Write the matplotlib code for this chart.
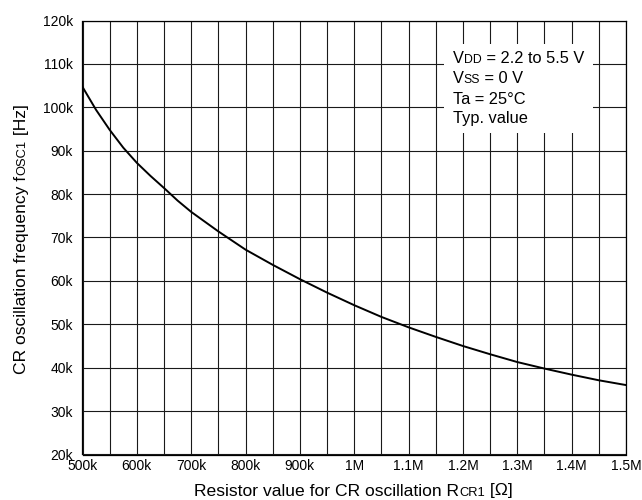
import matplotlib
matplotlib.use('Agg')
import matplotlib.pyplot as plt
from matplotlib.transforms import offset_copy
from matplotlib.patches import Rectangle
from matplotlib.ticker import MultipleLocator, FixedLocator

plt.rcParams['font.family'] = ['Liberation Sans', 'DejaVu Sans']

# ---- data (resistance in kΩ, frequency in kHz) ----
resistance_k = [500, 525, 550, 575, 600, 625, 650, 675, 700, 750, 800, 850, 900,
                950, 1000, 1050, 1100, 1150, 1200, 1250, 1300, 1350, 1400,
                1450, 1500]
frequency_k = [104.7, 99.4, 94.8, 90.7, 87.2, 84.2, 81.4, 78.5, 75.9, 71.4, 67.2,
               63.7, 60.4, 57.3, 54.4, 51.7, 49.3, 47.1, 45.0, 43.1, 41.3, 39.8,
               38.4, 37.1, 36.0]

x_ticks = [500, 600, 700, 800, 900, 1000, 1100, 1200, 1300, 1400, 1500]
x_tick_labels = ['500k', '600k', '700k', '800k', '900k', '1M', '1.1M', '1.2M',
                 '1.3M', '1.4M', '1.5M']
y_ticks = [20, 30, 40, 50, 60, 70, 80, 90, 100, 110, 120]
y_tick_labels = ['20k', '30k', '40k', '50k', '60k', '70k', '80k', '90k',
                 '100k', '110k', '120k']

BIG, SMALL = 11.8, 8.8
conditions = [
    [('V', BIG), ('DD', SMALL), (' = 2.2 to 5.5 V', BIG)],
    [('V', BIG), ('SS', SMALL), (' = 0 V', BIG)],
    [('Ta = 25°C', BIG)],
    [('Typ. value', BIG)],
]
LBIG, LSMALL = 12.6, 9.3
ylabel_pieces = [('CR oscillation frequency f', LBIG), ('OSC1', LSMALL), (' [Hz]', LBIG)]
xlabel_pieces = [('Resistor value for CR oscillation R', LBIG), ('CR1', LSMALL), (' [Ω]', LBIG)]

W, H = 642, 500
fig = plt.figure(figsize=(W / 100, H / 100), dpi=100)
L, R, T, B = 82.5, 626, 20.5, 454.5
ax = fig.add_axes([L / W, (H - B) / H, (R - L) / W, (B - T) / H])

ax.plot(resistance_k, frequency_k, color='black', lw=1.4, zorder=5,
        solid_joinstyle='round')

ax.set_xlim(500, 1500)
ax.set_ylim(20, 120)
ax.xaxis.set_major_locator(FixedLocator(x_ticks))
ax.set_xticklabels(x_tick_labels)
ax.xaxis.set_minor_locator(MultipleLocator(50))
ax.yaxis.set_major_locator(FixedLocator(y_ticks))
ax.set_yticklabels(y_tick_labels)
ax.tick_params(which='both', length=0, labelsize=10, colors='black')
ax.tick_params(axis='x', pad=3)
ax.tick_params(axis='y', pad=7)
ax.grid(True, which='both', color='#1a1a1a', lw=0.8, zorder=1)
ax.set_axisbelow(True)
for s in ax.spines.values():
    s.set_color('black')
    s.set_linewidth(0.9)

# white box behind conditions
ax.add_patch(Rectangle((0.665, 0.740), 0.274, 0.207, transform=ax.transAxes,
                       facecolor='white', edgecolor='none', zorder=3))

renderer = fig.canvas.get_renderer()


def rich(pieces, x, y, transform, rotation=0, center=False):
    widths = []
    for s, size in pieces:
        t = fig.text(0, 0, s, fontsize=size)
        widths.append(t.get_window_extent(renderer).width)
        t.remove()
    off = -sum(widths) / 2 if center else 0
    for (s, size), w in zip(pieces, widths):
        if rotation == 90:
            tr = offset_copy(transform, fig=fig, x=0, y=off, units='dots')
        else:
            tr = offset_copy(transform, fig=fig, x=off, y=0, units='dots')
        fig.text(x, y, s, fontsize=size, transform=tr, rotation=rotation,
                 rotation_mode='anchor', ha='left', va='baseline',
                 color='black', zorder=6)
        off += w


baselines = [63.3, 83.3, 104, 123.3]
for line, yb in zip(conditions, baselines):
    rich(line, (453 - L) / (R - L), (B - yb) / (B - T), ax.transAxes)

# x label
rich(xlabel_pieces, 353.5 / W, (H - 495.5) / H, fig.transFigure, center=True)
# y label
rich(ylabel_pieces, 25.7 / W, (H - 239) / H, fig.transFigure, rotation=90, center=True)

fig.savefig('out.png', dpi=100)
